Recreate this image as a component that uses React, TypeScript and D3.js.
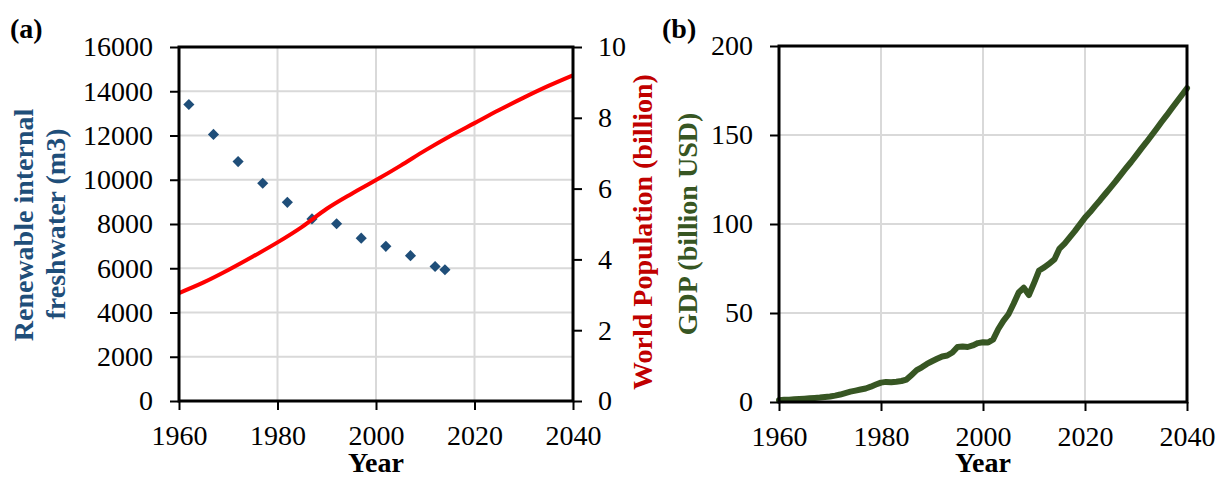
import React, { useEffect, useRef } from 'react';
import * as d3 from 'd3';

// panel (a): renewable internal freshwater per capita (m3), scatter
const waterYears = [1962, 1967, 1972, 1977, 1982, 1987, 1992, 1997, 2002, 2007, 2012, 2014];
const waterValues = [13400, 12050, 10820, 9840, 8980, 8230, 8010, 7360, 6990, 6570, 6080, 5930];

// panel (a): world population (billion), line on right axis
const popYears = [1960, 1965, 1970, 1975, 1980, 1985, 1990, 1995, 2000, 2005, 2010, 2015, 2020, 2025, 2030, 2035, 2040];
const popValues = [3.05, 3.35, 3.7, 4.08, 4.48, 4.92, 5.43, 5.85, 6.24, 6.65, 7.08, 7.48, 7.85, 8.22, 8.57, 8.9, 9.2];

// panel (b): GDP (billion USD)
const gdpYears = [
    1960, 1961, 1962, 1963, 1964, 1965, 1966, 1967, 1968, 1969,
    1970, 1971, 1972, 1973, 1974, 1975, 1976, 1977, 1978, 1979,
    1980, 1981, 1982, 1983, 1984, 1985, 1986, 1987, 1988, 1989,
    1990, 1991, 1992, 1993, 1994, 1995, 1996, 1997, 1998, 1999,
    2000, 2001, 2002, 2003, 2004, 2005, 2006, 2007, 2008, 2009,
    2010, 2011, 2012, 2013, 2014, 2015, 2016, 2017, 2018, 2019,
    2020, 2021, 2022, 2023, 2024, 2025, 2026, 2027, 2028, 2029,
    2030, 2031, 2032, 2033, 2034, 2035, 2036, 2037, 2038, 2039, 2040
];
const gdpValues = [
    1.0, 1.2, 1.3, 1.5, 1.7, 1.9, 2.1, 2.3, 2.5, 2.8,
    3.1, 3.6, 4.2, 5.0, 5.8, 6.4, 7.0, 7.6, 8.6, 9.8,
    10.9, 11.3, 11.1, 11.4, 11.8, 12.6, 15.2, 17.9, 19.5, 21.4,
    22.9, 24.3, 25.6, 26.1, 27.8, 30.9, 31.2, 30.9, 31.8, 33.1,
    33.6, 33.4, 35.2, 41.0, 45.6, 49.3, 55.2, 61.5, 64.2, 60.1,
    66.8, 73.9, 75.6, 77.8, 80.1, 86.2, 89.0, 92.5, 96.0, 99.8,
    103.6, 106.7, 110.2, 113.5, 117.0, 120.4, 123.9, 127.6, 131.2, 134.7,
    138.4, 142.2, 145.8, 149.6, 153.4, 157.3, 161.0, 164.9, 168.7, 172.5, 176.3
];

const yearTicks = [1960, 1980, 2000, 2020, 2040];
const waterTicks = [0, 2000, 4000, 6000, 8000, 10000, 12000, 14000, 16000];
const popTicks = [0, 2, 4, 6, 8, 10];
const gdpTicks = [0, 50, 100, 150, 200];

const FONT = '"Liberation Serif", "Times New Roman", serif';
const GRID = '#d9d9d9';

export default function App() {
    const ref = useRef<SVGSVGElement>(null);

    useEffect(() => {
        const svg = d3.select(ref.current);
        svg.selectAll('*').remove();
        svg.style('font-family', FONT);

        //panel (a)
        const xa = d3.scaleLinear().domain([1960, 2040]).range([179, 573]);
        const ya = d3.scaleLinear().domain([0, 16000]).range([401, 47]);
        const yp = d3.scaleLinear().domain([0, 10]).range([401, 47]);

        drawGrid(svg, xa, ya, yearTicks, waterTicks);

        svg.append('g')
            .selectAll('path')
            .data(waterYears)
            .enter()
                .append('path')
                .attr('d', d3.symbol(d3.symbolSquare, 62)())
                .attr('transform', (d, i) => `translate(${xa(d)},${ya(waterValues[i])}) rotate(45)`)
                .attr('fill', '#1f4e79');

        const popLine = d3.line<number>()
            .x(d => xa(d))
            .y((d, i) => yp(popValues[i]))
            .curve(d3.curveMonotoneX);
        svg.append('path')
            .attr('d', popLine(popYears))
            .attr('fill', 'none')
            .attr('stroke', '#ff0000')
            .attr('stroke-width', 4);

        drawFrame(svg, xa, ya);

        svg.append('g')
            .attr('transform', 'translate(179,0)')
            .call(styleAxis(d3.axisLeft(ya).tickValues(waterTicks).tickFormat(d3.format('d')).tickSize(9).tickPadding(17)));
        svg.append('g')
            .attr('transform', 'translate(573,0)')
            .call(styleAxis(d3.axisRight(yp).tickValues(popTicks).tickFormat(d3.format('d')).tickSize(9).tickPadding(16)));
        svg.append('g')
            .attr('transform', 'translate(0,401)')
            .call(styleAxis(d3.axisBottom(xa).tickValues(yearTicks).tickFormat(d3.format('d')).tickSize(9).tickPadding(15)));

        //panel (b)
        const xb = d3.scaleLinear().domain([1960, 2040]).range([779, 1187]);
        const yb = d3.scaleLinear().domain([0, 200]).range([402, 46]);

        drawGrid(svg, xb, yb, yearTicks, gdpTicks);

        const gdpLine = d3.line<number>()
            .x(d => xb(d))
            .y((d, i) => yb(gdpValues[i]));
        svg.append('path')
            .attr('d', gdpLine(gdpYears))
            .attr('fill', 'none')
            .attr('stroke', '#375623')
            .attr('stroke-width', 6)
            .attr('stroke-linejoin', 'round')
            .attr('stroke-linecap', 'round');

        drawFrame(svg, xb, yb);

        svg.append('g')
            .attr('transform', 'translate(779,0)')
            .call(styleAxis(d3.axisLeft(yb).tickValues(gdpTicks).tickFormat(d3.format('d')).tickSize(9).tickPadding(17)));
        svg.append('g')
            .attr('transform', 'translate(0,402)')
            .call(styleAxis(d3.axisBottom(xb).tickValues(yearTicks).tickFormat(d3.format('d')).tickSize(9).tickPadding(15)));

        //titles
        const bold = (x: number, y: number, text: string, color: string, rotate = false) => {
            svg.append('text')
                .attr('transform', rotate ? `translate(${x},${y}) rotate(-90)` : `translate(${x},${y})`)
                .attr('text-anchor', rotate ? 'middle' : 'start')
                .attr('font-size', 28)
                .attr('font-weight', 'bold')
                .attr('fill', color)
                .text(text);
        };
        bold(10, 38, '(a)', '#000');
        bold(662, 38, '(b)', '#000');
        bold(33, 225, 'Renewable internal', '#1f4e79', true);
        bold(65, 224, 'freshwater (m3)', '#1f4e79', true);
        bold(652, 232, 'World Population (billion)', '#c00000', true);
        bold(697, 224, 'GDP (billion USD)', '#375623', true);

        svg.append('text')
            .attr('x', (xa(1960) + xa(2040)) / 2).attr('y', 472)
            .attr('text-anchor', 'middle').attr('font-size', 28).attr('font-weight', 'bold')
            .text('Year');
        svg.append('text')
            .attr('x', (xb(1960) + xb(2040)) / 2).attr('y', 472)
            .attr('text-anchor', 'middle').attr('font-size', 28).attr('font-weight', 'bold')
            .text('Year');
    }, []);

    return (
        <svg ref={ref} width={1218} height={478}
            style={{ position: 'absolute', left: 0, top: 0, background: '#fff' }} />
    );
}

function drawGrid(svg: any, x: any, y: any, xt: number[], yt: number[]) {
    const g = svg.append('g');
    g.selectAll('line.v')
        .data(xt)
        .enter()
            .append('line')
            .attr('x1', (d: number) => x(d)).attr('x2', (d: number) => x(d))
            .attr('y1', y.range()[0]).attr('y2', y.range()[1])
            .attr('stroke', GRID).attr('stroke-width', 2);
    g.selectAll('line.h')
        .data(yt)
        .enter()
            .append('line')
            .attr('y1', (d: number) => y(d)).attr('y2', (d: number) => y(d))
            .attr('x1', x.range()[0]).attr('x2', x.range()[1])
            .attr('stroke', GRID).attr('stroke-width', 2);
}

function drawFrame(svg: any, x: any, y: any) {
    const [x0, x1] = x.range();
    const [y0, y1] = y.range();
    svg.append('rect')
        .attr('x', x0).attr('y', y1)
        .attr('width', x1 - x0).attr('height', y0 - y1)
        .attr('fill', 'none')
        .attr('stroke', '#000')
        .attr('stroke-width', 3);
}

function styleAxis(axis: any) {
    return (g: any) => {
        g.call(axis);
        g.select('.domain').remove();
        g.selectAll('.tick line').attr('stroke', '#000').attr('stroke-width', 2);
        g.selectAll('.tick text')
            .attr('font-family', FONT)
            .attr('font-size', 28)
            .attr('fill', '#000');
    };
}
